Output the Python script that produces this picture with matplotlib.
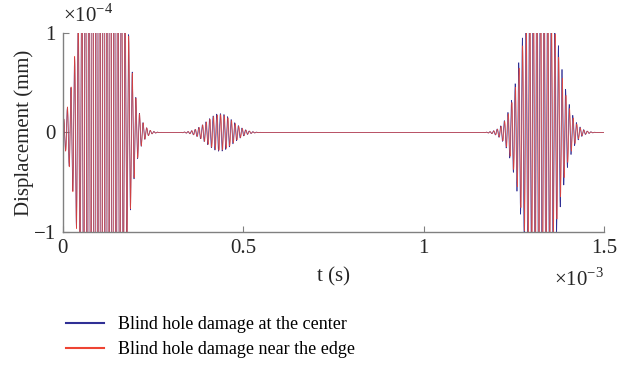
import numpy as np
import matplotlib
matplotlib.use('Agg')
import matplotlib.pyplot as plt

plt.rcParams['font.family'] = ['Liberation Serif', 'DejaVu Serif']
plt.rcParams['mathtext.fontset'] = 'custom'
plt.rcParams['mathtext.rm'] = 'Liberation Serif'

# ---------------- data ----------------
# time axis (s) and carrier of the tone bursts
t_start, t_end, dt = 0.0, 1.5e-3, 0.25e-6
carrier_freq = 100e3  # Hz, from spacing of the crests

# wave packets: centre (s), width (s), peak amplitude (mm)
packet_centres = [0.11e-3, 0.435e-3, 1.322e-3]
packet_widths = [0.040e-3, 0.036e-3, 0.042e-3]
peaks_center = [5.0e-4, 0.19e-4, 1.85e-4]   # blind hole damage at the center
peaks_edge = [5.0e-4, 0.18e-4, 1.65e-4]     # blind hole damage near the edge
phase_center = [0.2, 0.7, 0.6]
phase_edge = [0.0, 0.0, 0.0]

labels = ['Blind hole damage at the center', 'Blind hole damage near the edge']
colors = ['#2f2f95', '#ee4433']

xticks = [0, 0.5, 1, 1.5]
yticks = [-1, 0, 1]


def makeSignal(t, peaks, phases):
	y = np.zeros_like(t)
	for c, w, a, p in zip(packet_centres, packet_widths, peaks, phases):
		env = a * np.exp(-(t - c)**2 / (2.0 * w**2))
		y += env * np.sin(2.0 * np.pi * carrier_freq * (t - c) + p)
	return y


t = np.arange(t_start, t_end + dt, dt)
y_center = makeSignal(t, peaks_center, phase_center)
y_edge = makeSignal(t, peaks_edge, phase_edge)

fig = plt.figure(figsize=(6.17, 3.70), dpi=100)
ax = fig.add_axes([0.102, 0.373, 0.877, 0.538])

ax.plot(t * 1e3, y_center * 1e4, color=colors[0], lw=0.5, label=labels[0])
ax.plot(t * 1e3, y_edge * 1e4, color=colors[1], lw=0.5, alpha=0.85, label=labels[1])

ax.set_xlim(0, 1.5)
ax.set_ylim(-1, 1)
ax.set_xticks(xticks)
ax.set_xticklabels(['0', '0.5', '1', '1.5'])
ax.set_yticks(yticks)
ax.set_yticklabels(['\u22121', '0', '1'])
ax.tick_params(direction='in', length=4, labelsize=15, colors='#262626', pad=5)
for s in ['top', 'right']:
	ax.spines[s].set_visible(False)
for s in ['left', 'bottom']:
	ax.spines[s].set_color('#808080')
	ax.spines[s].set_linewidth(1.0)
ax.tick_params(color='#808080')

ax.set_xlabel('t (s)', fontsize=15, color='#262626', labelpad=7)
ax.set_ylabel('Displacement (mm)', fontsize=15, color='#262626', labelpad=0)

ax.text(0.0, 1.03, r'$\times10^{-4}$', transform=ax.transAxes, fontsize=15,
	ha='left', va='bottom', color='#262626')
ax.text(1.0, -0.18, r'$\times10^{-3}$', transform=ax.transAxes, fontsize=15,
	ha='right', va='top', color='#262626')

leg = fig.legend(handles=[ax.lines[0], ax.lines[1]], loc='upper left',
	bbox_to_anchor=(0.08, 0.19), frameon=False, fontsize=13,
	handlelength=2.1, handletextpad=0.8, labelspacing=0.45)
for h in leg.legend_handles:
	h.set_linewidth(1.5)
	h.set_alpha(1.0)

fig.savefig('out.png', dpi=100)
